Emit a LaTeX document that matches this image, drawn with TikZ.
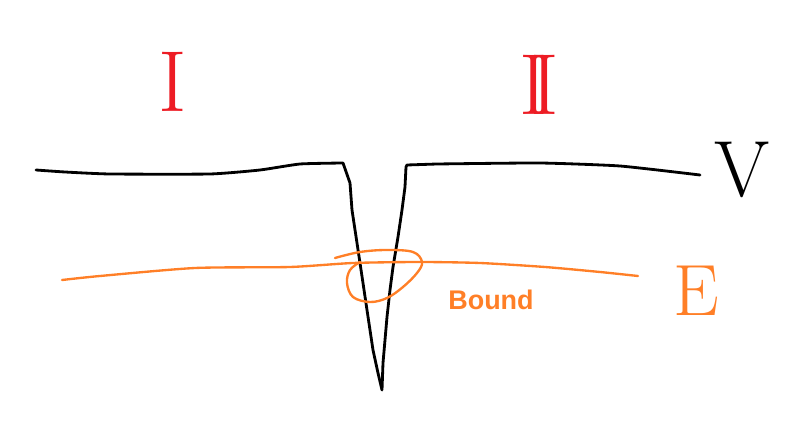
\documentclass[tikz,border=0pt]{standalone}
\usepackage{fontspec}
\newfontfamily\boundfont{Liberation Sans}
\definecolor{paintred}{HTML}{ED1C24}
\definecolor{paintorange}{HTML}{FF7F27}
\tikzset{
  wellline/.style={draw=black, line width=2.4pt, line join=round, line cap=round},
  boundline/.style={draw=paintorange, line width=2pt, line join=round, line cap=round},
  numeral/.style={anchor=base, inner sep=0pt, font=\fontsize{74}{74}\selectfont}
}
\begin{document}
\begin{tikzpicture}[x=0.03cm, y=-0.03cm]
            \useasboundingbox (0,0) rectangle (798,431);
            % potential with the well
            \draw[wellline] plot[smooth, tension=0.3] coordinates {(36,170) (65,172) (110,174) (210,174) (260,170) (300,164) (343,163)}
                -- (350,183) -- (352,210) -- (357,243) -- (363,283) -- (367,310) -- (373,350) -- (378,373) -- (382,390)
                -- (383,363) -- (387,317) -- (390,290) -- (393,267) -- (398,237) -- (402,210) -- (405,187) -- (406,167) -- (407,165)
                -- plot[smooth, tension=0.3] coordinates {(437,164) (540,163) (620,166) (700,175)};
            % bound level and its loop
            \draw[boundline] plot[smooth, tension=0.4] coordinates {(62,280) (100,276) (195,268) (290,267) (353,263) (420,262) (480,263) (545,267) (600,272) (638,276)};
            \draw[boundline] plot[smooth, tension=0.6] coordinates {(335,258) (360,252) (387,250) (413,252) (422,262) (417,273) (403,287) (387,298) (370,302) (353,297) (347,283) (350,270) (360,262)};
            \node[text=paintorange, font=\boundfont\bfseries\fontsize{23}{23}\selectfont] (bound) at (491,300) {Bound};
            % region labels
            \node[numeral, text=paintred] (regionI) at (173,112) {I};
            \node[numeral, text=paintred] (regionII) at (539,115) {I\kern-.2em I};
            \node[numeral, text=black, font=\fontsize{68}{68}\selectfont] (potV) at (742,197) {V};
            \node[numeral, text=paintorange, font=\fontsize{62}{62}\selectfont] (energyE) at (696,316) {E};
\end{tikzpicture}
\end{document}
